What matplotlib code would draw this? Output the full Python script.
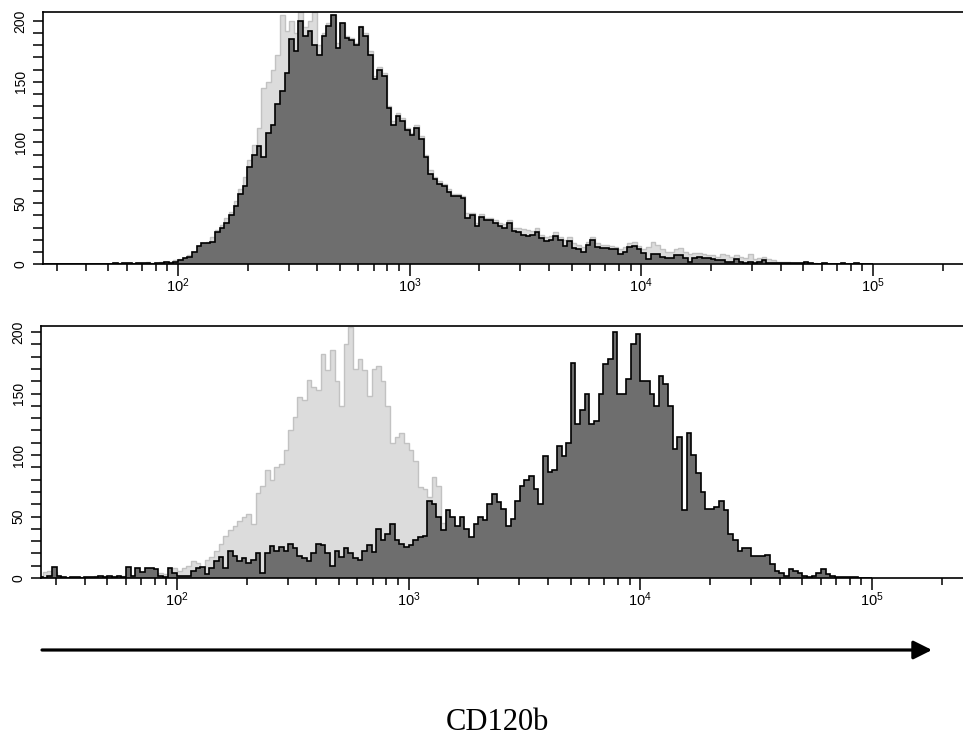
import matplotlib
matplotlib.use("Agg")
import matplotlib.pyplot as plt
import numpy as np
from matplotlib.ticker import LogLocator, MultipleLocator, FixedLocator, NullFormatter
from matplotlib.patches import FancyArrowPatch

# --- histogram channels: log10 bin edges 1.40 .. 5.00, step 0.02 (180 bins) ---
log_edges = np.linspace(1.40, 5.00, 181)

# upper panel (counts per bin)
top_control = [
    0, 0, 0, 0, 0, 0, 0, 0, 0, 0, 0, 0, 0, 0, 0,
    0, 1, 1, 1, 1,
    1, 1, 1, 2, 1,
    1, 2, 2, 2, 3,
    4, 5, 7, 10, 15,
    17, 18, 22, 28, 32,
    38, 43, 52, 62, 72,
    86, 98, 112, 145, 150,
    160, 172, 205, 192, 200,
    190, 207, 195, 200, 207,
    180, 190, 198, 205, 182,
    198, 188, 186, 182, 196,
    190, 175, 155, 162, 157,
    130, 118, 124, 120, 112,
    108, 114, 105, 90, 77,
    72, 68, 66, 62, 58,
    58, 56, 42, 42, 34,
    41, 38, 38, 36, 34,
    33, 36, 30, 30, 29,
    28, 27, 30, 24, 22,
    23, 26, 22, 20, 22,
    17, 16, 14, 18, 22,
    17, 16, 16, 15, 14,
    12, 14, 17, 18, 15,
    12, 14, 18, 16, 12,
    10, 10, 12, 13, 10,
    8, 9, 9, 8, 7,
    7, 6, 8, 7, 6,
    7, 6, 5, 8, 4,
    5, 6, 4, 3, 2,
    2, 2, 1, 1, 1,
    2, 1, 1, 0, 1,
    0, 0, 0, 1, 0,
    0, 1, 0, 0, 0,
]
top_sample = [
    0, 0, 0, 0, 0, 0, 0, 0, 0, 0, 0, 0, 0, 0, 0,
    0, 1, 0, 1, 1,
    0, 1, 1, 1, 0,
    1, 1, 2, 1, 2,
    3, 5, 6, 10, 15,
    17, 17, 18, 26, 30,
    34, 40, 48, 58, 64,
    80, 90, 97, 88, 108,
    114, 132, 142, 157, 185,
    175, 200, 188, 192, 180,
    172, 188, 196, 205, 178,
    198, 186, 184, 180, 195,
    188, 172, 152, 160, 155,
    128, 114, 122, 118, 110,
    106, 112, 103, 88, 74,
    70, 66, 64, 59, 56,
    56, 54, 38, 40, 31,
    39, 36, 36, 34, 31,
    30, 34, 27, 26, 24,
    23, 24, 26, 21, 19,
    20, 23, 20, 15, 19,
    13, 12, 10, 16, 20,
    14, 13, 13, 12, 12,
    8, 10, 14, 15, 12,
    9, 4, 8, 8, 6,
    5, 5, 7, 7, 5,
    2, 5, 6, 5, 5,
    4, 3, 3, 2, 2,
    4, 2, 1, 2, 1,
    2, 3, 1, 1, 1,
    1, 1, 1, 1, 1,
    2, 1, 0, 0, 1,
    0, 0, 0, 1, 0,
    0, 1, 0, 0, 0,
]

# lower panel (counts per bin)
bottom_control = [
    2, 5, 6, 5, 2,
    1, 1, 1, 1, 1,
    1, 1, 2, 1, 2,
    1, 2, 1, 2, 2,
    2, 2, 3, 2, 2,
    3, 4, 3, 6, 8,
    6, 8, 10, 14, 12,
    8, 15, 17, 22, 28,
    34, 39, 42, 46, 50,
    52, 44, 69, 75, 88,
    80, 90, 93, 104, 120,
    131, 147, 145, 161, 155,
    153, 182, 169, 185, 160,
    140, 190, 204, 170, 178,
    169, 148, 170, 172, 160,
    140, 110, 115, 118, 110,
    104, 95, 74, 72, 66,
    82, 75, 45, 35, 28,
    22, 18, 14, 10, 8,
    6, 5, 4, 3, 2,
    1, 1, 1, 1, 1,
    1, 1, 0, 1, 0,
] + [0] * 70
bottom_sample = [
    1, 0, 2, 9, 2,
    1, 0, 1, 1, 0,
    1, 1, 1, 2, 1,
    2, 1, 2, 1, 9,
    2, 8, 5, 8, 8,
    7, 2, 1, 8, 4,
    2, 2, 2, 6, 8,
    9, 3, 8, 14, 17,
    8, 22, 18, 14, 16,
    12, 15, 20, 4, 20,
    26, 22, 25, 22, 28,
    24, 18, 16, 14, 20,
    28, 27, 20, 10, 22,
    17, 24, 20, 16, 15,
    22, 27, 21, 40, 31,
    36, 44, 31, 28, 25,
    27, 31, 33, 34, 63,
    60, 50, 39, 55, 50,
    42, 50, 40, 33, 44,
    50, 47, 60, 68, 62,
    56, 42, 48, 63, 75,
    80, 83, 72, 60, 99,
    86, 88, 107, 99, 110,
    175, 125, 137, 150, 125,
    128, 150, 174, 178, 200,
    150, 150, 162, 190, 198,
    160, 160, 150, 140, 164,
    158, 140, 105, 115, 55,
    118, 100, 85, 70, 56,
    56, 58, 63, 55, 36,
    31, 22, 24, 24, 18,
    18, 18, 19, 11, 6,
    4, 2, 7, 6, 4,
    2, 1, 2, 4, 7,
    3, 2, 1, 1, 1,
    1, 1, 0, 0, 0,
]

y_major = [0, 50, 100, 150, 200]
x_major = [1e2, 1e3, 1e4, 1e5]

LIGHT_FILL = '#dcdcdc'
LIGHT_EDGE = '#c2c2c2'
DARK_FILL = '#6e6e6e'

plt.rcParams['font.family'] = ['Liberation Sans', 'DejaVu Sans']
plt.rcParams['mathtext.default'] = 'regular'

W, H = 963, 738
fig = plt.figure(figsize=(W / 100, H / 100), dpi=100)
edges = 10 ** log_edges


def draw_panel(rect, control, sample, xlim, ymax):
    ax = fig.add_axes(rect)
    ax.stairs(control, edges, fill=True, color=LIGHT_FILL, lw=0)
    ax.stairs(control, edges, color=LIGHT_EDGE, lw=1.0)
    ax.stairs(sample, edges, fill=True, color=DARK_FILL, lw=0)
    ax.stairs(sample, edges, color='black', lw=1.2)

    ax.set_xscale('log')
    ax.set_xlim(*xlim)
    ax.set_ylim(0, ymax)

    ax.xaxis.set_major_locator(FixedLocator(x_major))
    ax.xaxis.set_major_formatter(
        plt.FuncFormatter(lambda v, p: r'$10^{%d}$' % round(np.log10(v))))
    ax.xaxis.set_minor_locator(LogLocator(base=10, subs=np.arange(2, 10), numticks=20))
    ax.xaxis.set_minor_formatter(NullFormatter())
    ax.tick_params(axis='x', which='major', direction='out', length=8.5, width=1.1,
                   labelsize=10.5, pad=0.5)
    ax.tick_params(axis='x', which='minor', direction='out', length=5, width=1.1)

    ax.set_yticks(y_major)
    ax.yaxis.set_minor_locator(MultipleLocator(10))
    ax.tick_params(axis='y', which='both', direction='out', length=7, width=1.1)
    ax.tick_params(axis='y', which='major', labelsize=10, labelrotation=90, pad=4)
    for lbl in ax.get_yticklabels():
        lbl.set_va('center')

    ax.spines['right'].set_visible(False)
    for s in ('top', 'left', 'bottom'):
        ax.spines[s].set_linewidth(1.2)
    return ax


# upper panel: left spine x=43px, y=0 at 264px, top at 12px
draw_panel([43 / W, 1 - 264 / H, (W - 43) / W, 252 / H],
           top_control, top_sample, (10 ** 1.4173, 10 ** 5.3884), 207.4)
# lower panel: left spine x=41px, y=0 at 578px, top at 326px
draw_panel([41 / W, 1 - 578 / H, (W - 41) / W, 252 / H],
           bottom_control, bottom_sample, (10 ** 1.413, 10 ** 5.393), 204.9)

# intensity arrow
arrow = FancyArrowPatch((42 / W, 1 - 650 / H), (932 / W, 1 - 650 / H),
                        transform=fig.transFigure, arrowstyle='-|>',
                        mutation_scale=28, lw=2.3, color='black',
                        shrinkA=0, shrinkB=0)
fig.patches.append(arrow)

fig.text(497 / W, 1 / H, 'CD120b', ha='center', va='bottom',
         fontsize=22, family=['Liberation Serif', 'DejaVu Serif'])

fig.savefig('out.png', dpi=100)
